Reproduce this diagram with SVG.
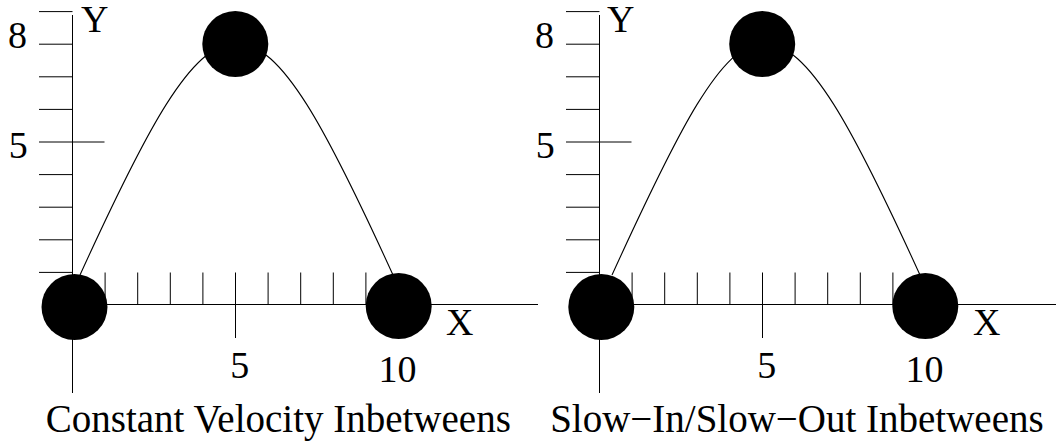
<svg xmlns="http://www.w3.org/2000/svg" width="1056" height="443" viewBox="0 0 1056 443">
<style>
.ax{stroke:#000;stroke-width:1;fill:none}
.crv{stroke:#000;stroke-width:1.1;fill:none}
.dot{fill:#000}
.t{font-family:'Liberation Serif','Times New Roman','DejaVu Serif',serif;font-size:38px;fill:#000}
.cap{font-size:39px}
.m{text-anchor:middle}
</style>
<g id="left-graph">
  <g id="left-axes">
    <path class="ax" d="M72.5,15V393M72.5,304.5H538"/>
    <path class="ax" d="M39,11.6H72.5M39,44.2H72.5M39,76.8H72.5M39,109.4H72.5M39,142H104.5M39,174.6H72.5M39,207.2H72.5M39,239.8H72.5M39,272.4H72.5"/>
    <path class="ax" d="M105.1,272.5V304.5M137.7,272.5V304.5M170.3,272.5V304.5M202.9,272.5V304.5M235.5,272.5V338M268.1,272.5V304.5M300.7,272.5V304.5M333.3,272.5V304.5M365.9,272.5V304.5"/>
    <text class="t" x="81" y="32">Y</text>
    <text class="t" x="446" y="335">X</text>
    <text class="t m" x="17.5" y="48">8</text>
    <text class="t m" x="18.3" y="158">5</text>
    <text class="t m" x="239.7" y="378">5</text>
    <text class="t m" x="397.5" y="381.5">10</text>
    <text class="t cap m" x="278.3" y="432">Constant Velocity Inbetweens</text>
  </g>
  <g id="left-connectors">
    <path class="crv" d="M80,275C146.4,129.4 191.5,43 236.5,43C281.5,43 326.6,129.4 393,275"/>
  </g>
  <g id="left-key-start"><circle class="dot" cx="74.5" cy="307" r="33"/></g>
  <g id="left-key-peak"><circle class="dot" cx="235.3" cy="44" r="33"/></g>
  <g id="left-key-end"><circle class="dot" cx="398.7" cy="306" r="33"/></g>
</g>
<g id="right-graph">
  <g id="right-axes">
    <path class="ax" d="M599.5,15V393M599.5,304.5H1056"/>
    <path class="ax" d="M566,11.6H599.5M566,44.2H599.5M566,76.8H599.5M566,109.4H599.5M566,142H631.5M566,174.6H599.5M566,207.2H599.5M566,239.8H599.5M566,272.4H599.5"/>
    <path class="ax" d="M632.1,272.5V304.5M664.7,272.5V304.5M697.3,272.5V304.5M729.9,272.5V304.5M762.5,272.5V338M795.1,272.5V304.5M827.7,272.5V304.5M860.3,272.5V304.5M892.9,272.5V304.5"/>
    <text class="t" x="607" y="32">Y</text>
    <text class="t" x="973" y="335">X</text>
    <text class="t m" x="544.5" y="48">8</text>
    <text class="t m" x="545.3" y="158">5</text>
    <text class="t m" x="766.7" y="378">5</text>
    <text class="t m" x="924.5" y="381.5">10</text>
    <text class="t cap m" x="796.9" y="432">Slow−In/Slow−Out Inbetweens</text>
  </g>
  <g id="right-connectors">
    <path class="crv" d="M612,275C678.4,129.4 722,43 763.5,43C808.5,43 853.6,129.4 920,275"/>
  </g>
  <g id="right-key-start"><circle class="dot" cx="601.3" cy="307" r="33"/></g>
  <g id="right-key-peak"><circle class="dot" cx="762.2" cy="44" r="33"/></g>
  <g id="right-key-end"><circle class="dot" cx="925.3" cy="306" r="33"/></g>
</g>
</svg>
